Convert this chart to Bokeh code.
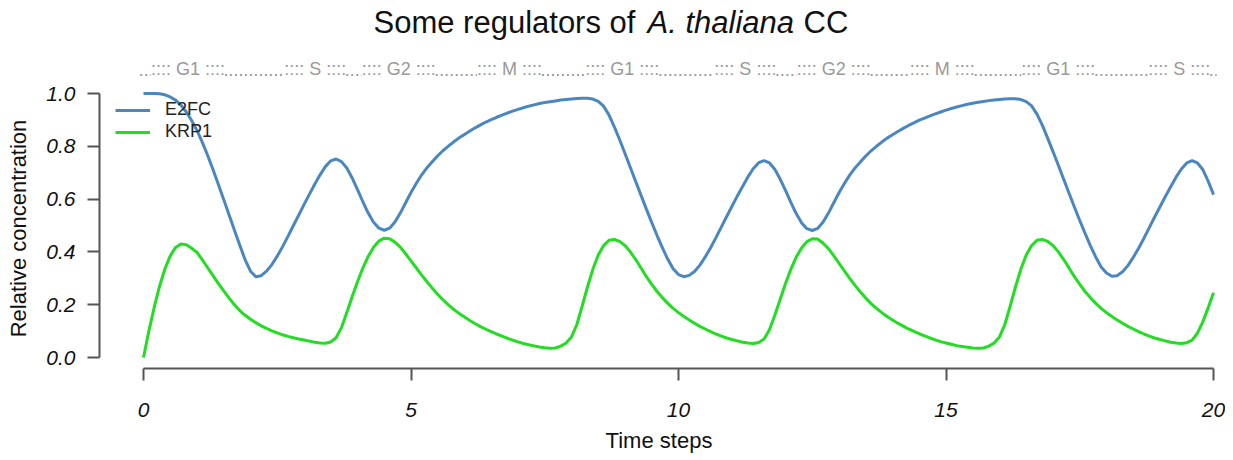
import numpy as np
from bokeh.plotting import figure
from bokeh.layouts import column
from bokeh.models import (Range1d, Legend, LegendItem, FixedTicker,
                          PrintfTickFormatter)
from bokeh.core.properties import value
from bokeh.embed import file_html
from bokeh.resources import INLINE

# ---------------- data ----------------
time = np.linspace(0, 20, 201)  # sample times, step 0.1

e2fc = [
    1.000, 1.000, 1.000, 0.999, 0.995, 0.987, 0.975, 0.956, 0.930, 0.898,  # 0
    0.860, 0.815, 0.765, 0.711, 0.655, 0.598, 0.540, 0.482, 0.425, 0.370,  # 1
    0.327, 0.306, 0.310, 0.327, 0.352, 0.384, 0.420, 0.459, 0.499, 0.539,  # 2
    0.579, 0.618, 0.656, 0.692, 0.723, 0.745, 0.752, 0.742, 0.718, 0.680,  # 3
    0.636, 0.590, 0.547, 0.512, 0.490, 0.482, 0.490, 0.513, 0.547, 0.586,  # 4
    0.625, 0.660, 0.692, 0.719, 0.742, 0.764, 0.784, 0.801, 0.817, 0.832,  # 5
    0.845, 0.858, 0.870, 0.881, 0.892, 0.901, 0.910, 0.918, 0.926, 0.933,  # 6
    0.940, 0.946, 0.952, 0.957, 0.962, 0.966, 0.969, 0.972, 0.975, 0.977,  # 7
    0.979, 0.981, 0.982, 0.982, 0.979, 0.970, 0.952, 0.919, 0.874, 0.825,  # 8
    0.773, 0.720, 0.667, 0.614, 0.562, 0.511, 0.462, 0.415, 0.372, 0.336,  # 9
    0.314, 0.306, 0.311, 0.326, 0.350, 0.381, 0.416, 0.454, 0.494, 0.534,  # 10
    0.573, 0.612, 0.649, 0.685, 0.716, 0.738, 0.746, 0.737, 0.713, 0.676,  # 11
    0.633, 0.588, 0.545, 0.510, 0.488, 0.481, 0.489, 0.512, 0.546, 0.585,  # 12
    0.624, 0.659, 0.691, 0.718, 0.741, 0.763, 0.783, 0.800, 0.816, 0.831,  # 13
    0.844, 0.856, 0.868, 0.879, 0.889, 0.899, 0.907, 0.915, 0.923, 0.930,  # 14
    0.937, 0.943, 0.949, 0.954, 0.959, 0.963, 0.967, 0.970, 0.973, 0.975,  # 15
    0.977, 0.979, 0.980, 0.980, 0.977, 0.969, 0.953, 0.922, 0.880, 0.831,  # 16
    0.780, 0.728, 0.675, 0.622, 0.570, 0.519, 0.470, 0.423, 0.380, 0.343,  # 17
    0.320, 0.308, 0.310, 0.325, 0.348, 0.379, 0.414, 0.452, 0.492, 0.532,  # 18
    0.571, 0.610, 0.647, 0.683, 0.714, 0.737, 0.746, 0.737, 0.712, 0.668,  # 19
    0.617,                                                                 # 20
]

krp1 = [
    0.000, 0.100, 0.190, 0.270, 0.335, 0.385, 0.417, 0.430, 0.427, 0.414,  # 0
    0.398, 0.370, 0.340, 0.310, 0.280, 0.252, 0.225, 0.200, 0.178, 0.160,  # 1
    0.145, 0.132, 0.120, 0.110, 0.101, 0.093, 0.086, 0.080, 0.075, 0.070,  # 2
    0.066, 0.062, 0.058, 0.055, 0.054, 0.059, 0.075, 0.113, 0.170, 0.230,  # 3
    0.287, 0.339, 0.383, 0.418, 0.441, 0.452, 0.450, 0.437, 0.418, 0.393,  # 4
    0.366, 0.339, 0.312, 0.287, 0.262, 0.239, 0.218, 0.199, 0.182, 0.167,  # 5
    0.153, 0.140, 0.128, 0.117, 0.107, 0.098, 0.089, 0.081, 0.073, 0.066,  # 6
    0.059, 0.053, 0.048, 0.044, 0.040, 0.037, 0.035, 0.036, 0.043, 0.055,  # 7
    0.078, 0.125, 0.195, 0.268, 0.335, 0.388, 0.424, 0.444, 0.447, 0.440,  # 8
    0.424, 0.400, 0.371, 0.339, 0.306, 0.277, 0.250, 0.226, 0.205, 0.186,  # 9
    0.170, 0.155, 0.142, 0.130, 0.118, 0.108, 0.098, 0.089, 0.081, 0.074,  # 10
    0.068, 0.063, 0.058, 0.055, 0.053, 0.057, 0.070, 0.105, 0.160, 0.220,  # 11
    0.280, 0.334, 0.380, 0.415, 0.439, 0.450, 0.449, 0.434, 0.413, 0.386,  # 12
    0.357, 0.328, 0.300, 0.273, 0.248, 0.225, 0.204, 0.186, 0.170, 0.155,  # 13
    0.142, 0.130, 0.119, 0.108, 0.099, 0.090, 0.082, 0.074, 0.067, 0.060,  # 14
    0.055, 0.050, 0.045, 0.042, 0.039, 0.036, 0.035, 0.036, 0.043, 0.055,  # 15
    0.078, 0.125, 0.195, 0.268, 0.335, 0.388, 0.424, 0.444, 0.447, 0.440,  # 16
    0.424, 0.400, 0.371, 0.339, 0.306, 0.277, 0.250, 0.226, 0.205, 0.186,  # 17
    0.170, 0.155, 0.142, 0.130, 0.118, 0.108, 0.098, 0.089, 0.081, 0.074,  # 18
    0.068, 0.063, 0.058, 0.055, 0.053, 0.056, 0.066, 0.092, 0.135, 0.188,  # 19
    0.245,                                                                 # 20
]

series_names = ["E2FC", "KRP1"]

phase_names = ["G1", "S", "G2", "M", "G1", "S", "G2", "M", "G1", "S"]
phase_centers = [0.83, 3.21, 4.77, 6.84, 8.95, 11.25, 12.90, 14.93, 17.10, 19.36]

x_ticks = [0, 5, 10, 15, 20]
y_ticks = [0.0, 0.2, 0.4, 0.6, 0.8, 1.0]

title_parts = ["Some regulators of", "A. thaliana", "CC"]
x_label = "Time steps"
y_label = "Relative concentration"

# ---------------- geometry (canvas pixels -> data) ----------------
X0, PX_PER_X = 143.0, 53.5
Y0, PX_PER_Y = 357.0, 264.0


def dx(px):
    return (px - X0) / PX_PER_X


def dy(py):
    return (Y0 - py) / PX_PER_Y


W = 1225
TOP_H = 80                     # header strip: title + phase row
FRAME_L, FRAME_R, FRAME_T, FRAME_B = 99, 1218, 88, 368
TOTAL_H = 460

FONT = "Liberation Sans"
AXIS_COL = "#555555"
TXT = "#111111"

# ---------------- header strip (title + cell-cycle phases) ----------------
top = figure(width=W, height=TOP_H, output_backend="svg", toolbar_location=None,
             x_range=Range1d(dx(FRAME_L), dx(FRAME_R)),
             y_range=Range1d(TOP_H, 0),
             x_axis_location=None, y_axis_location=None, title=None,
             min_border_left=FRAME_L, min_border_right=W - FRAME_R,
             min_border_top=0, min_border_bottom=0)
top.outline_line_color = None
top.grid.visible = False

TITLE_FS = 31
TITLE_Y = 33 - 0.35 * TITLE_FS      # compensates the renderer's baseline shift
top.text(x=[dx(373)], y=[TITLE_Y], text=[title_parts[0]], text_font=value(FONT),
         text_font_size=f"{TITLE_FS}px", text_color=TXT, text_align="left",
         text_baseline="alphabetic")
top.text(x=[dx(647)], y=[TITLE_Y], text=[title_parts[1]], text_font=value(FONT),
         text_font_style="italic", text_font_size=f"{TITLE_FS}px",
         text_color=TXT, text_align="left", text_baseline="alphabetic")
top.text(x=[dx(803)], y=[TITLE_Y], text=[title_parts[2]], text_font=value(FONT),
         text_font_size=f"{TITLE_FS}px", text_color=TXT, text_align="left",
         text_baseline="alphabetic")

CW = {"G": 0.778, "S": 0.667, "M": 0.833, "1": 0.556, "2": 0.556}
PH_FS = 18.0
half_w = []
for n in phase_names:
    wpx = (4 * 0.278 + 0.278) * 2 * PH_FS + sum(CW[c] for c in n) * PH_FS
    half_w.append(wpx / 2.0 / PX_PER_X)
ph_text = [":::: " + n + " ::::" for n in phase_names]
PH_Y = 76 - 0.4 * PH_FS
top.text(x=phase_centers, y=[PH_Y] * len(phase_names), text=ph_text,
         text_font=value(FONT), text_font_size=f"{PH_FS:.0f}px",
         text_color="#999999", text_align="center", text_baseline="alphabetic")
seg_x0 = [-0.06] + [c + h for c, h in zip(phase_centers, half_w)]
seg_x1 = [c - h for c, h in zip(phase_centers, half_w)] + [20.06]
top.segment(x0=seg_x0, y0=[74.5] * len(seg_x0), x1=seg_x1, y1=[74.5] * len(seg_x1),
            line_color="#a0a0a0", line_width=2, line_dash="2 3")

# ---------------- main plot ----------------
p = figure(width=W, height=TOTAL_H - TOP_H, output_backend="svg",
           toolbar_location=None, title=None,
           x_range=Range1d(dx(FRAME_L), dx(FRAME_R)),
           y_range=Range1d(dy(FRAME_B), dy(FRAME_T)),
           min_border_left=FRAME_L, min_border_right=W - FRAME_R,
           min_border_top=FRAME_T - TOP_H, min_border_bottom=TOTAL_H - FRAME_B)
p.outline_line_color = None
p.grid.visible = False

p.xaxis.bounds = (0, 20)
p.yaxis.bounds = (0, 1)
p.xaxis.ticker = FixedTicker(ticks=x_ticks)
p.yaxis.ticker = FixedTicker(ticks=y_ticks)
p.yaxis.formatter = PrintfTickFormatter(format="%.1f")
for ax in (p.xaxis[0], p.yaxis[0]):
    ax.major_tick_out = 12
    ax.major_tick_in = 0
    ax.minor_tick_out = 0
    ax.minor_tick_in = 0
    ax.axis_line_color = AXIS_COL
    ax.axis_line_width = 2
    ax.major_tick_line_color = AXIS_COL
    ax.major_tick_line_width = 2
    ax.major_label_text_font = FONT
    ax.major_label_text_font_style = "italic"
    ax.major_label_text_font_size = "21px"
    ax.major_label_text_color = TXT
    ax.axis_label_text_font = FONT
    ax.axis_label_text_font_style = "normal"
    ax.axis_label_text_font_size = "22px"
    ax.axis_label_text_color = TXT
p.xaxis.major_label_standoff = 22
p.yaxis.major_label_standoff = 12
p.xaxis.axis_label = x_label
p.yaxis.axis_label = y_label
p.xaxis.axis_label_standoff = 8
p.yaxis.axis_label_standoff = 12

r1 = p.line(time, e2fc, line_color="#4a86c0", line_width=3)
r2 = p.line(time, krp1, line_color="#22dd22", line_width=3)

legend = Legend(items=[LegendItem(label=series_names[0], renderers=[r1]),
                       LegendItem(label=series_names[1], renderers=[r2])],
                location=(16, 226), border_line_color=None,
                background_fill_alpha=0, padding=0, spacing=1, margin=0,
                glyph_width=35, glyph_height=20, label_height=20,
                label_standoff=15, label_text_font=FONT,
                label_text_font_size="18px", label_text_color="#222222")
p.add_layout(legend)

layout = column(top, p, spacing=0)
open("out.html", "w").write(file_html(layout, INLINE))
